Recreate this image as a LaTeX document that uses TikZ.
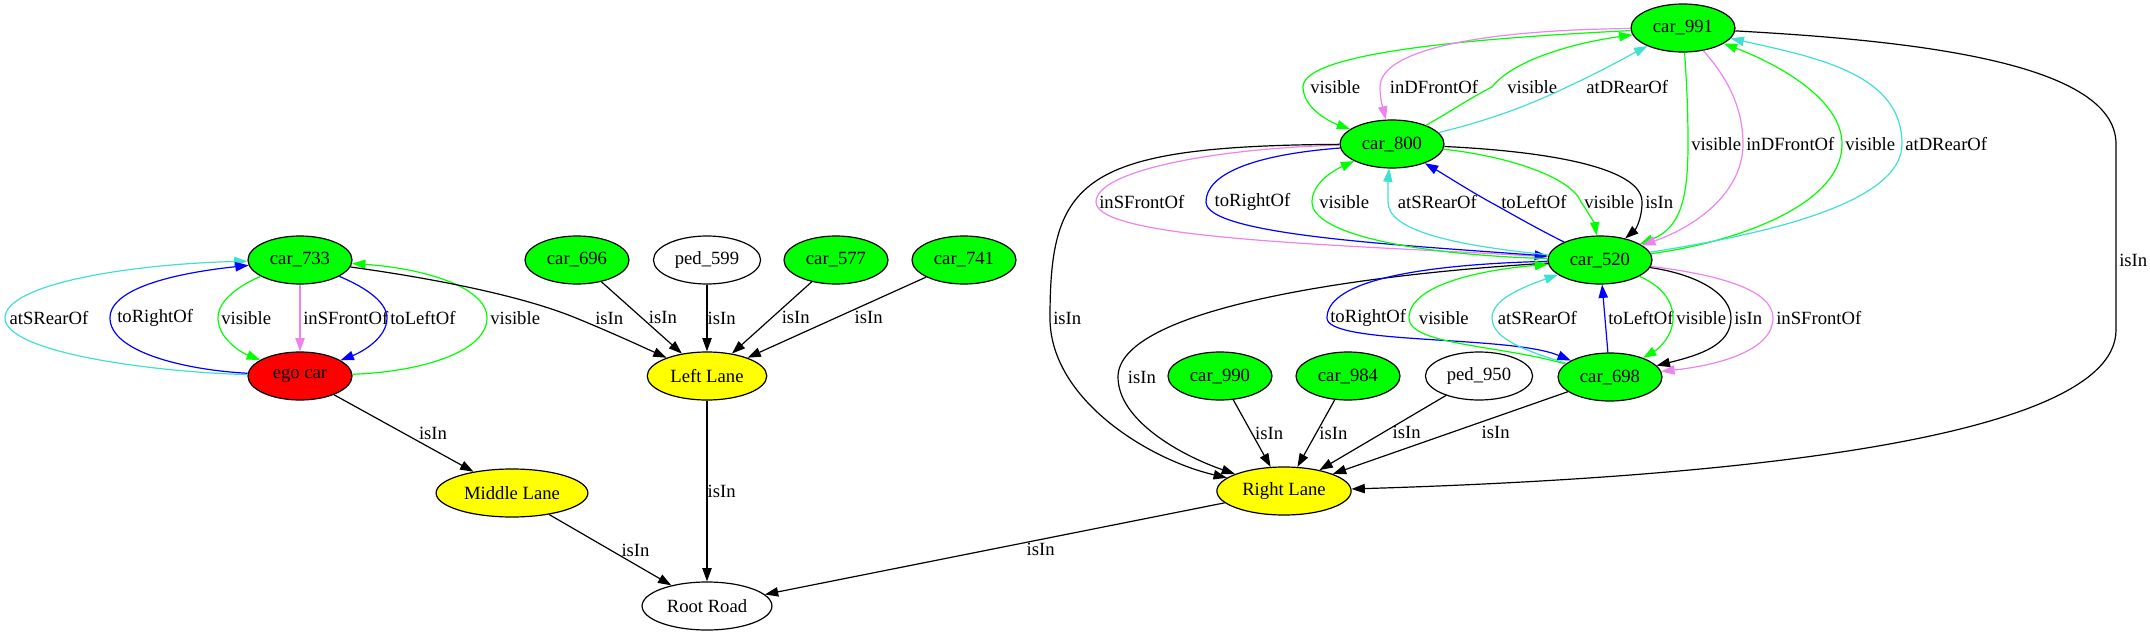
\documentclass[tikz,border=0pt]{standalone}
\usepackage{fontspec}
\setmainfont{Liberation Serif}
\usetikzlibrary{arrows.meta,shapes.geometric}
\definecolor{carfill}{HTML}{00FF00}
\definecolor{lanefill}{HTML}{FFFF00}
\definecolor{egofill}{HTML}{FF0000}
\definecolor{turq}{HTML}{40E0D0}
\definecolor{viol}{HTML}{EE82EE}
\definecolor{relblue}{HTML}{0000FF}
\definecolor{relgreen}{HTML}{00FF00}
\begin{document}
\begin{tikzpicture}[x=0.75pt,y=-0.75pt,
    font=\fontsize{14}{16}\selectfont,
    obj/.style={ellipse,draw,line width=0.9pt,minimum width=78pt,minimum height=36pt,inner xsep=4.3pt,inner ysep=0pt},
    car/.style={obj,fill=carfill},
    lane/.style={obj,fill=lanefill},
    egocar/.style={obj,fill=egofill},
    lbl/.style={anchor=west,inner xsep=2pt,inner ysep=1pt,text=black}]
  \useasboundingbox (0,0) rectangle (2150,639);
  \draw
    (1683,28) node[car] (car991){car\_991}
    (1392,144) node[car] (car800){car\_800}
    (300,260) node[car] (car733){car\_733}
    (577,260) node[car] (car696){car\_696}
    (707,260) node[obj] (ped599){ped\_599}
    (836,260) node[car] (car577){car\_577}
    (964,260) node[car] (car741){car\_741}
    (1600,260) node[car] (car520){car\_520}
    (300,376) node[egocar] (ego){ego car}
    (707,376) node[lane] (leftlane){Left Lane}
    (1220,376) node[car] (car990){car\_990}
    (1348,376) node[car] (car984){car\_984}
    (1479,376) node[obj] (ped950){ped\_950}
    (1610,377) node[car] (car698){car\_698}
    (512,493) node[lane] (midlane){Middle Lane}
    (1284,491) node[lane] (rightlane){Right Lane}
    (707,606) node[obj] (rootroad){Root Road};
  \begin{scope}[-{Triangle[length=10pt,width=7pt]},line width=0.9pt]
    % ego car and car_733
    \draw[turq] (ego) .. controls (150,372) and (5,352) .. (5,318) node[lbl,xshift=1pt]{atSRearOf} .. controls (5,284) and (130,264) .. (car733);
    \draw[relblue] (ego) .. controls (185,370) and (110,352) .. (110,318) node[lbl,xshift=3pt]{toRightOf} .. controls (110,286) and (185,272) .. (car733);
    \draw[relgreen] (car733) .. controls (240,285) and (218,300) .. (218,318) node[lbl]{visible} .. controls (218,338) and (240,352) .. (ego);
    \draw[viol] (car733) -- (ego) node[lbl,midway]{inSFrontOf};
    \draw[relblue] (car733) .. controls (360,285) and (387,300) .. (387,318) node[lbl]{toLeftOf} .. controls (387,338) and (362,352) .. (ego);
    \draw[relgreen] (ego) .. controls (420,372) and (487,352) .. (487,318) node[lbl]{visible} .. controls (487,286) and (420,268) .. (car733);
    \draw (car733) .. controls (430,278) and (520,295) .. (576,318) node[lbl,xshift=12pt]{isIn} .. controls (615,334) and (645,348) .. (leftlane);
    \draw (ego) -- (midlane) node[lbl,midway,xshift=9pt]{isIn};
    % left lane
    \draw (car696) -- (leftlane) node[lbl,midway,xshift=3pt]{isIn};
    \draw (ped599) -- (leftlane) node[lbl,midway,xshift=-2pt]{isIn};
    \draw (car577) -- (leftlane) node[lbl,midway,xshift=5pt]{isIn};
    \draw (car741) -- (leftlane) node[lbl,midway,xshift=11pt]{isIn};
    % roads
    \draw (leftlane) -- (rootroad) node[lbl,midway,xshift=-2pt]{isIn};
    \draw (midlane) -- (rootroad) node[lbl,midway,xshift=6pt]{isIn};
    \draw (rightlane) -- (rootroad) node[pos=0.4,below,text=black,inner sep=2pt]{isIn};
    % car_991 and car_800
    \draw[relgreen] (car991) .. controls (1480,38) and (1303,52) .. (1303,87) node[lbl,xshift=3pt]{visible} .. controls (1303,108) and (1330,122) .. (car800);
    \draw[viol] (car991) .. controls (1480,30) and (1380,50) .. (1380,87) node[lbl,xshift=5pt]{inDFrontOf} .. controls (1380,100) and (1383,108) .. (car800);
    \draw[relgreen] (car800) .. controls (1450,112) and (1470,98) .. (1492,87) node[lbl,xshift=9pt]{visible} .. controls (1515,58) and (1580,42) .. (car991);
    \draw[turq] (car800) .. controls (1490,120) and (1530,105) .. (1567,87) node[lbl,xshift=12pt]{atDRearOf} .. controls (1600,72) and (1630,55) .. (car991);
    % car_991 and car_520
    \draw[relgreen] (car991) .. controls (1687,90) and (1688,110) .. (1688,144) node[lbl]{visible} .. controls (1688,200) and (1680,228) .. (car520);
    \draw[viol] (car991) .. controls (1725,75) and (1743,105) .. (1743,144) node[lbl]{inDFrontOf} .. controls (1743,190) and (1700,225) .. (car520);
    \draw[relgreen] (car520) .. controls (1720,245) and (1842,210) .. (1842,144) node[lbl]{visible} .. controls (1842,100) and (1780,65) .. (car991);
    \draw[turq] (car520) .. controls (1780,232) and (1902,200) .. (1902,144) node[lbl]{atDRearOf} .. controls (1902,75) and (1820,58) .. (car991);
    \draw (car991) .. controls (1900,40) and (2116,60) .. (2116,144) -- (2116,260) node[lbl]{isIn} -- (2116,330) .. controls (2116,450) and (1650,480) .. (rightlane);
    % car_800 and car_520
    \draw[viol] (car800) .. controls (1220,148) and (1096,170) .. (1096,202) node[lbl]{inSFrontOf} .. controls (1096,240) and (1350,245) .. (car520);
    \draw[relblue] (car800) .. controls (1250,155) and (1206,175) .. (1206,202) node[lbl,xshift=4pt]{toRightOf} .. controls (1206,235) and (1400,245) .. (car520);
    \draw[relgreen] (car520) .. controls (1420,255) and (1312,235) .. (1312,202) node[lbl,xshift=3pt]{visible} .. controls (1312,185) and (1330,172) .. (car800);
    \draw[turq] (car520) .. controls (1450,245) and (1388,230) .. (1388,202) node[lbl,xshift=5pt]{atSRearOf} .. controls (1388,190) and (1388,180) .. (car800);
    \draw[relblue] (car520) .. controls (1530,225) and (1505,210) .. (1490,202) node[lbl,xshift=6pt]{toLeftOf} .. controls (1465,188) and (1445,175) .. (car800);
    \draw[relgreen] (car800) .. controls (1500,155) and (1570,175) .. (1581,202) node[lbl]{visible} .. controls (1590,215) and (1595,225) .. (car520);
    \draw (car800) .. controls (1560,152) and (1642,170) .. (1642,202) node[lbl]{isIn} .. controls (1642,220) and (1635,230) .. (car520);
    \draw (car800) .. controls (1080,146) and (1050,180) .. (1050,318) node[lbl]{isIn} .. controls (1050,400) and (1150,460) .. (rightlane);
    \draw (car520) .. controls (1350,275) and (1118,310) .. (1118,377) node[lbl,xshift=5pt]{isIn} .. controls (1118,420) and (1180,455) .. (rightlane);
    % car_520 and car_698
    \draw[relblue] (car520) .. controls (1400,265) and (1327,285) .. (1327,318) node[lbl]{toRightOf} .. controls (1327,345) and (1510,335) .. (car698);
    \draw[relgreen] (car698) .. controls (1500,345) and (1409,345) .. (1409,318) node[lbl,xshift=5pt]{visible} .. controls (1409,285) and (1480,270) .. (car520);
    \draw[turq] (car698) .. controls (1530,352) and (1492,340) .. (1492,318) node[lbl,xshift=2pt]{atSRearOf} .. controls (1492,300) and (1520,288) .. (car520);
    \draw[relblue] (car698) -- (car520) node[lbl,midway]{toLeftOf};
    \draw[relgreen] (car520) .. controls (1660,285) and (1673,300) .. (1673,318) node[lbl]{visible} .. controls (1673,335) and (1660,348) .. (car698);
    \draw (car520) .. controls (1700,275) and (1731,295) .. (1731,318) node[lbl]{isIn} .. controls (1731,345) and (1700,355) .. (car698);
    \draw[viol] (car520) .. controls (1720,275) and (1773,290) .. (1773,318) node[lbl]{inSFrontOf} .. controls (1773,350) and (1720,365) .. (car698);
    % right lane
    \draw (car990) -- (rightlane) node[lbl,midway]{isIn};
    \draw (car984) -- (rightlane) node[lbl,midway]{isIn};
    \draw (ped950) -- (rightlane) node[lbl,midway,xshift=5pt]{isIn};
    \draw (car698) -- (rightlane) node[lbl,midway,xshift=21pt]{isIn};
  \end{scope}
\end{tikzpicture}
\end{document}
